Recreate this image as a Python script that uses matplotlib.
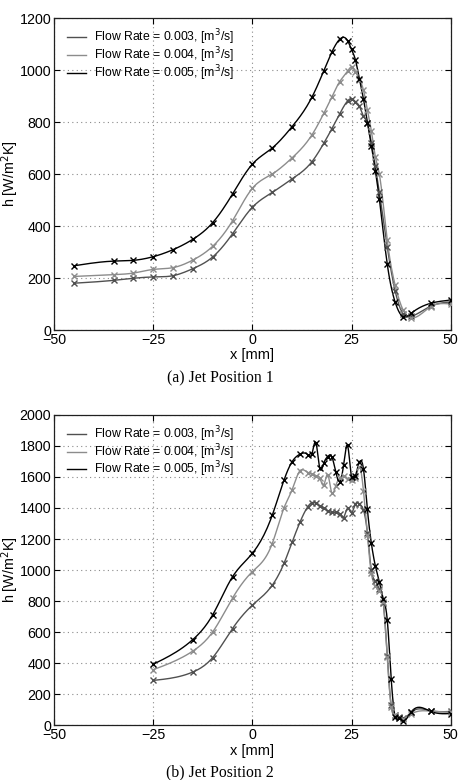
import matplotlib.pyplot as plt
import numpy as np

# Jet Position 1
x_a = [-45, -35, -30, -25, -20, -15, -10, -5, 0, 5, 10, 15, 18, 20, 22, 24, 25, 26,
       27, 28, 29, 30, 31, 32, 34, 36, 38, 40, 45, 50]
h_a_003 = [180, 191, 199, 204, 209, 236, 281, 370, 472, 529, 581, 647, 718, 773, 831, 881, 890, 878,
           860, 823, 795, 720, 630, 530, 320, 150, 62, 52, 92, 108]
h_a_004 = [206, 213, 219, 233, 240, 269, 322, 420, 545, 600, 662, 750, 833, 895, 955, 995, 1012, 994,
           963, 923, 846, 765, 667, 600, 346, 172, 77, 47, 90, 100]
h_a_005 = [247, 265, 268, 282, 309, 349, 413, 523, 638, 700, 782, 895, 997, 1068, 1118, 1113, 1079, 1038,
           964, 889, 798, 709, 613, 505, 254, 107, 51, 64, 103, 115]

# Jet Position 2
x_b = [-25, -15, -10, -5, 0, 5, 8, 10, 12, 14, 15, 16, 17, 18, 19, 20, 21, 22, 23, 24, 25, 26,
       27, 28, 29, 30, 31, 32, 33, 34, 35, 36, 37, 38, 40, 45, 50]
h_b_003 = [290, 344, 437, 624, 774, 902, 1045, 1178, 1308, 1409, 1434, 1430, 1413, 1398, 1381, 1372, 1372,
           1361, 1338, 1398, 1370, 1426, 1426, 1387, 1240, 1000, 930, 880, 790, 450, 130, 70, 55, 45,
           85, 95, 90]
h_b_004 = [359, 479, 602, 820, 990, 1170, 1402, 1516, 1639, 1628, 1619, 1606, 1592, 1548, 1615, 1499, 1542,
           1592, 1606, 1585, 1581, 1590, 1666, 1512, 1226, 979, 899, 866, 795, 440, 120, 65, 50, 42,
           72, 92, 85]
h_b_005 = [394, 553, 712, 957, 1108, 1352, 1581, 1697, 1746, 1742, 1746, 1821, 1656, 1688, 1731, 1731, 1634,
           1570, 1677, 1802, 1596, 1606, 1695, 1652, 1391, 1172, 1028, 925, 813, 682, 300, 56, 47, 32,
           86, 90, 77]

labels = ['Flow Rate = 0.003, [m$^3$/s]', 'Flow Rate = 0.004, [m$^3$/s]', 'Flow Rate = 0.005, [m$^3$/s]']
colors = ['#505050', '#8c8c8c', '#000000']


def spline(x, y, n=12):
    # natural cubic spline through the measured points (smooth line like the original)
    x = np.asarray(x, float)
    y = np.asarray(y, float)
    m = len(x)
    hh = np.diff(x)
    A = np.zeros((m, m))
    r = np.zeros(m)
    A[0, 0] = A[-1, -1] = 1
    for i in range(1, m - 1):
        A[i, i - 1] = hh[i - 1]
        A[i, i] = 2 * (hh[i - 1] + hh[i])
        A[i, i + 1] = hh[i]
        r[i] = 6 * ((y[i + 1] - y[i]) / hh[i] - (y[i] - y[i - 1]) / hh[i - 1])
    M = np.linalg.solve(A, r)
    xs, ys = [], []
    for i in range(m - 1):
        t = np.linspace(x[i], x[i + 1], n, endpoint=False)
        a = (x[i + 1] - t) / hh[i]
        b = (t - x[i]) / hh[i]
        s = a * y[i] + b * y[i + 1] + ((a ** 3 - a) * M[i] + (b ** 3 - b) * M[i + 1]) * hh[i] ** 2 / 6
        xs.append(t)
        ys.append(s)
    xs.append([x[-1]])
    ys.append([y[-1]])
    return np.concatenate(xs), np.concatenate(ys)


plt.rcParams['font.family'] = ['Liberation Sans', 'DejaVu Sans']

fig = plt.figure(figsize=(4.6, 7.8), dpi=100)
ax1 = fig.add_axes([0.1174, 0.5769, 0.8624, 0.4])
ax2 = fig.add_axes([0.1174, 0.0699, 0.8624, 0.3984])


def draw(ax, x, series, ymax, ystep):
    for h, c, lab in zip(series, colors, labels):
        xs, ys = spline(x, h)
        ax.plot(xs, ys, color=c, lw=1.0, label=lab, zorder=3)
        ax.plot(x, h, linestyle='none', marker='x', ms=4, mew=1.0, color=c, zorder=4)
    ax.set_xlim(-50, 50)
    ax.set_ylim(0, ymax)
    ax.set_xticks([-50, -25, 0, 25, 50])
    ax.set_xticklabels(['\u221250', '\u221225', '0', '25', '50'])
    ax.set_yticks(np.arange(0, ymax + 1, ystep))
    ax.grid(True, linestyle=(0, (1, 3)), color='#8a8a8a', linewidth=0.8)
    ax.tick_params(direction='in', top=True, right=True, labelsize=10.3, length=4, pad=2)
    for s in ax.spines.values():
        s.set_color('#202020')
        s.set_linewidth(0.9)
    ax.set_xlabel('x [mm]', fontsize=10.5, labelpad=1)
    ax.set_ylabel('h [W/m$^2$K]', fontsize=10.3)
    ax.yaxis.set_label_coords(-0.083, 0.5)
    ax.legend(loc='upper left', frameon=False, fontsize=8.8, handlelength=1.6,
              handletextpad=0.6, labelspacing=-0.15, borderaxespad=0.0,
              bbox_to_anchor=(0.02, 0.985))


draw(ax1, x_a, [h_a_003, h_a_004, h_a_005], 1200, 200)
draw(ax2, x_b, [h_b_003, h_b_004, h_b_005], 2000, 200)

fig.text(0.478, 1 - 378 / 780, '(a) Jet Position 1', ha='center', va='center',
         family='Liberation Serif', fontsize=11.3)
fig.text(0.478, 1 - 772 / 780, '(b) Jet Position 2', ha='center', va='center',
         family='Liberation Serif', fontsize=11.3)

fig.savefig('out.png', dpi=100)
